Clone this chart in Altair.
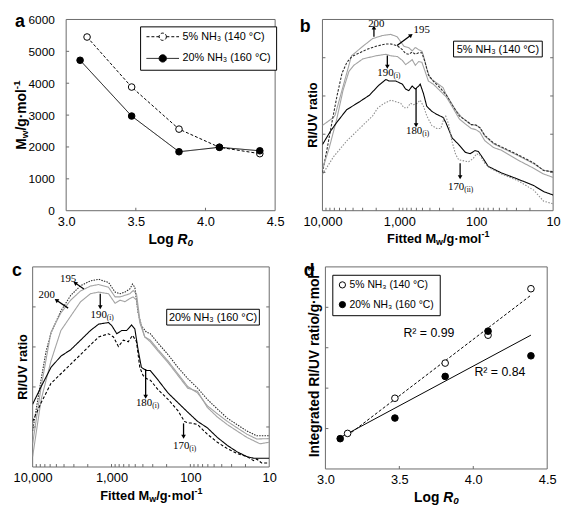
import altair as alt
import pandas as pd

S5 = "5% NH₃ (140 °C)"
S20 = "20% NH₃ (160 °C)"
SERIES = [S5, S20]

# ---------------- panel a ----------------
a_logR0_5 = [3.15, 3.47, 3.81, 4.10, 4.39]
a_mw_5 = [5450, 3880, 2560, 1990, 1790]
a_logR0_20 = [3.10, 3.47, 3.81, 4.10, 4.39]
a_mw_20 = [4720, 2970, 1850, 1990, 1880]
a_x_labels = [3.0, 3.5, 4.0, 4.5]
a_y_labels = [0, 1000, 2000, 3000, 4000, 5000, 6000]
a_x_inner = [3.5, 4.0]
a_y_inner = [1000, 2000, 3000, 4000, 5000]

# ---------------- panel b (5% NH3) ----------------
b_names = ["200", "195", "190", "180", "170"]
b200_mw = [10000, 7180, 6840, 5570, 4810, 4190, 2980, 2225, 1660, 1298, 1070, 960, 871, 753, 681, 619, 561, 509, 485, 440, 399, 327, 270, 249, 222, 186, 156, 139, 116, 101, 89.5, 77.3, 59.4, 47, 29.1, 17.9, 13.3, 10]
b200_y = [2.23, 2.44, 2.50, 3.15, 3.61, 4.05, 4.30, 4.50, 4.58, 4.61, 4.55, 4.42, 4.30, 4.26, 4.18, 4.27, 4.21, 4.17, 4.05, 3.72, 3.47, 3.34, 3.22, 3.06, 2.89, 2.64, 2.45, 2.37, 2.25, 2.24, 2.17, 1.95, 1.75, 1.65, 1.45, 1.23, 1.06, 1.01]
b195_mw = [10000, 8640, 7460, 6440, 5570, 4810, 4150, 2700, 2010, 1500, 1285, 1057, 914, 829, 753, 681, 619, 561, 509, 462, 419, 362, 297, 244, 201, 166, 139, 116, 101, 89.5, 77.3, 59.4, 47, 29.1, 17.9, 13.3, 10]
b195_y = [0.99, 1.65, 2.35, 3.02, 3.59, 3.88, 4.03, 4.21, 4.30, 4.36, 4.36, 4.31, 4.21, 4.11, 4.09, 4.15, 4.09, 4.13, 4.13, 3.88, 3.55, 3.39, 3.22, 3.02, 2.73, 2.48, 2.37, 2.25, 2.24, 2.17, 1.97, 1.77, 1.67, 1.47, 1.25, 1.05, 1.02]
b190_mw = [10000, 8150, 6510, 5410, 4530, 3920, 2980, 2010, 1500, 1285, 1057, 914, 829, 753, 681, 619, 561, 509, 462, 419, 362, 297, 244, 201, 166, 139, 116, 101, 89.5, 77.3, 59.4, 47, 29.1, 17.9, 13.3, 10]
b190_y = [1.08, 1.65, 2.40, 3.14, 3.64, 3.80, 3.97, 4.05, 4.09, 4.05, 4.03, 3.93, 3.82, 3.88, 3.95, 3.80, 3.90, 3.88, 3.64, 3.39, 3.31, 3.14, 2.97, 2.69, 2.40, 2.27, 2.15, 2.12, 2.05, 1.83, 1.65, 1.58, 1.33, 1.11, 0.96, 0.87]
b180_mw = [10000, 7910, 6510, 4850, 3290, 2450, 1850, 1500, 1352, 1110, 914, 829, 753, 681, 619, 561, 535, 485, 440, 379, 327, 270, 249, 205, 169, 139, 120, 104, 94, 81, 70, 47.4, 29.1, 17.9, 13.3, 10]
b180_y = [1.73, 2.07, 2.31, 2.64, 2.85, 3.02, 3.28, 3.43, 3.39, 3.39, 3.31, 3.18, 3.14, 3.26, 3.18, 3.26, 3.31, 3.06, 2.73, 2.60, 2.52, 2.44, 2.31, 1.90, 1.73, 1.53, 1.49, 1.57, 1.55, 1.36, 1.16, 0.99, 0.83, 0.66, 0.50, 0.41]
b170_mw = [10000, 7180, 4850, 3290, 2225, 1900, 1565, 1285, 1110, 960, 871, 789, 716, 650, 589, 535, 485, 440, 379, 327, 289, 264, 249, 229, 209, 186, 169, 126, 110, 99, 89.5, 77.3, 67, 47, 29.1, 17.9, 13.3, 10]
b170_y = [0.95, 1.41, 1.82, 2.15, 2.48, 2.69, 2.81, 2.89, 2.85, 2.81, 2.69, 2.69, 2.81, 2.77, 2.81, 2.89, 2.73, 2.48, 2.23, 2.15, 2.15, 2.40, 2.47, 2.27, 1.85, 1.48, 1.33, 1.28, 1.36, 1.49, 1.45, 1.24, 1.12, 0.96, 0.79, 0.54, 0.25, 0.18]
b_plain_text = ["200", "195"]
b_plain_mw = [1995, 512]
b_plain_y = [4.87, 4.73]
b_main_text = ["190", "180", "170"]
b_sub_text = ["(i)", "(i)", "(ii)"]
b_main_mw = [1189, 504, 143]
b_main_y = [3.61, 2.07, 0.62]
b_arrow_mw = [2140, 1070, 1433, 606, 162]
b_arrow_y = [4.55, 4.32, 4.06, 3.21, 1.24]
b_head_mw = [2140, 716, 1433, 606, 162]
b_head_y = [4.77, 4.58, 3.78, 2.25, 0.89]
b_head_angle = [0, 52, 180, 180, 180]

# ---------------- panel c (20% NH3) ----------------
c_names = ["195", "200", "190", "180", "170"]
c195_mw = [10000, 7790, 6750, 5850, 4385, 3290, 2465, 1850, 1455, 1090, 900, 779, 675, 585, 541, 506, 460, 418, 361, 322, 256, 192, 144, 108, 81, 61, 45.5, 34, 25.6, 19.2, 14.4, 10]
c195_y = [0.90, 2.20, 2.89, 3.35, 3.90, 4.29, 4.53, 4.65, 4.69, 4.61, 4.37, 4.33, 4.37, 4.45, 4.57, 4.49, 3.85, 3.53, 3.37, 3.33, 3.09, 2.81, 2.49, 2.21, 1.97, 1.69, 1.45, 1.22, 1.06, 0.90, 0.78, 0.78]
c200_mw = [10000, 7790, 5850, 4385, 3290, 2465, 1850, 1455, 1090, 900, 779, 675, 585, 531, 482, 438, 379, 322, 256, 192, 144, 108, 81, 61, 45.5, 34, 25.6, 19.2, 14.4, 10]
c200_y = [0.58, 2.01, 3.37, 3.85, 4.17, 4.40, 4.52, 4.56, 4.49, 4.25, 4.25, 4.29, 4.33, 4.41, 4.33, 3.69, 3.25, 3.17, 2.93, 2.65, 2.33, 2.01, 1.85, 1.53, 1.33, 1.14, 0.98, 0.82, 0.70, 0.71]
c190_mw = [10000, 7790, 5850, 4385, 3290, 2465, 1850, 1455, 1090, 900, 779, 675, 585, 531, 482, 438, 379, 322, 256, 192, 144, 108, 81, 61, 45.5, 34, 25.6, 19.2, 14.4, 13.1, 10]
c190_y = [0.26, 1.69, 2.65, 3.41, 3.77, 4.13, 4.33, 4.37, 4.33, 4.09, 4.17, 4.13, 4.21, 4.25, 4.17, 3.61, 3.25, 3.13, 2.89, 2.61, 2.29, 1.97, 1.89, 1.49, 1.25, 1.06, 0.90, 0.74, 0.62, 0.58, 0.62]
c180_mw = [10000, 7790, 5850, 4385, 3290, 2465, 1850, 1455, 1090, 990, 857, 743, 643, 557, 506, 460, 418, 361, 322, 256, 192, 144, 108, 81, 61, 45.5, 34, 25.6, 19.2, 15.8, 10]
c180_y = [1.57, 2.01, 2.49, 2.77, 2.93, 3.17, 3.41, 3.57, 3.61, 3.53, 3.33, 3.41, 3.41, 3.55, 3.45, 2.93, 2.49, 2.41, 2.41, 2.17, 1.85, 1.61, 1.37, 1.14, 0.98, 0.74, 0.54, 0.38, 0.26, 0.22, 0.22]
c170_mw = [10000, 7790, 5850, 4385, 3290, 2465, 1850, 1455, 1090, 944, 818, 708, 613, 541, 482, 438, 398, 361, 322, 256, 192, 144, 119, 108, 98, 81, 61, 45.5, 34, 25.6, 19.2, 15.8, 14.4, 12.5, 10]
c170_y = [1.14, 1.61, 2.09, 2.33, 2.57, 2.81, 3.05, 3.25, 3.33, 3.25, 3.01, 3.17, 3.13, 3.29, 3.13, 2.49, 2.29, 2.21, 2.17, 1.93, 1.69, 1.41, 1.14, 1.10, 1.10, 1.06, 0.82, 0.62, 0.46, 0.34, 0.26, 0.16, 0.20, 0.10, 0.10]
c_plain_text = ["195", "200"]
c_plain_mw = [3548, 6625]
c_plain_y = [4.69, 4.29]
c_main_text = ["190", "180", "170"]
c_sub_text = ["(i)", "(i)", "(i)"]
c_main_mw = [1145, 305, 103]
c_main_y = [3.80, 1.61, 0.53]
c_arrow_mw = [2239, 3548, 1389, 369, 122]
c_arrow_y = [4.45, 3.97, 4.33, 2.45, 1.09]
c_head_mw = [2851, 4925, 1389, 369, 122]
c_head_y = [4.59, 4.16, 4.01, 1.77, 0.77]
c_head_angle = [304, 304, 180, 180, 180]

mw_minor = [9000, 8000, 7000, 6000, 5000, 4000, 3000, 2000, 1000,
            900, 800, 700, 600, 500, 400, 300, 200, 100,
            90, 80, 70, 60, 50, 40, 30, 20]
mw_labels = [10000, 1000, 100, 10]
ratio_inner = [1, 2, 3, 4]

# ---------------- panel d ----------------
d_logR0_5 = [3.15, 3.47, 3.81, 4.10, 4.39]
d_int_5 = [0.88, 1.75, 2.62, 3.31, 4.46]
d_logR0_20 = [3.10, 3.47, 3.81, 4.10, 4.39]
d_int_20 = [0.75, 1.26, 2.29, 3.41, 2.80]
d_r2_text = ["R² = 0.99", "R² = 0.84"]
d_r2_x = [3.70, 4.18]
d_r2_y = [3.37, 2.41]

FONT = "Liberation Sans"
SERIF = "Liberation Serif"
FRAME = "#6a6a6a"

W_A, H_A = 212, 194
W_B, H_B = 234, 194
W_C, H_C = 240, 203
W_D, H_D = 225, 205

one = pd.DataFrame({"t": [0]})


def txt(text, x, y, size=13, weight="bold", style="normal", align="center",
        baseline="middle", angle=0, dx=0, dy=0, font=FONT):
    return alt.Chart(one).mark_text(
        text=text, align=align, baseline=baseline, angle=angle, dx=dx, dy=dy,
        font=font, fontSize=size, fontWeight=weight, fontStyle=style, color="black"
    ).encode(x=alt.value(x), y=alt.value(y))


def extent_box(W, H, left, right, top, bottom):
    # invisible box that fixes the extent of a panel (layout only)
    return alt.Chart(one).mark_rect(opacity=0).encode(
        x=alt.value(-left), x2=alt.value(W + right),
        y=alt.value(-top), y2=alt.value(H + bottom))


def plot_frame(W, H):
    return alt.Chart(one).mark_rect(filled=False, stroke=FRAME, strokeWidth=1).encode(
        x=alt.value(0), x2=alt.value(W), y=alt.value(0), y2=alt.value(H))


def spacer():
    return alt.Chart(one).mark_rect(opacity=0).encode(
        x=alt.value(0), x2=alt.value(1), y=alt.value(0), y2=alt.value(1)
    ).properties(width=1, height=1)


def log_title(W, H):
    A = W / 2 + 7
    y = H + 30
    return [txt("Log", A, y, 14, align="right", dx=-3.9),
            txt("R", A, y, 14, style="italic", align="left"),
            txt("0", A, y, 10, style="italic", align="left", dx=10.1, dy=3)]


def fitted_title(W, H):
    A = W / 2 - 1.7
    y = H + 29
    return [txt("Fitted M", A, y, 13, align="right"),
            txt("w", A, y, 9, align="left", dy=3),
            txt("/g·mol", A, y, 13, align="left", dx=7),
            txt("-1", A, y, 9, align="left", dx=46, dy=-5)]


def curves_df(names, mws, ys):
    parts = []
    for n, m, v in zip(names, mws, ys):
        parts.append(pd.DataFrame({"Mw": m, "y": v, "curve": n}))
    return pd.concat(parts, ignore_index=True)


def inner_ticks_x(df, X, H):
    return alt.Chart(df).mark_rule(color=FRAME, strokeWidth=1).encode(
        x=X, y=alt.value(H), y2=alt.value(H - 3))


def inner_ticks_y(df, Y, x0, x1):
    return alt.Chart(df).mark_rule(color=FRAME, strokeWidth=1).encode(
        y=Y, x=alt.value(x0), x2=alt.value(x1))


# ================= panel a =================
df_a = pd.DataFrame({
    "logR0": a_logR0_5 + a_logR0_20,
    "mw": a_mw_5 + a_mw_20,
    "series": [S5] * len(a_mw_5) + [S20] * len(a_mw_20),
})
xa = alt.X("logR0:Q", scale=alt.Scale(domain=[3.0, 4.5], nice=False, zero=False),
           axis=alt.Axis(values=a_x_labels, format=".1f", title=None, ticks=False, tickSize=0,
                         domain=False, grid=False, labelFlush=False, labelPadding=5,
                         labelFontSize=13, labelFont=FONT, labelColor="black"))
ya = alt.Y("mw:Q", scale=alt.Scale(domain=[0, 6000], nice=False),
           axis=alt.Axis(values=a_y_labels, format="d", title=None, ticks=False, tickSize=0,
                         domain=False, grid=False, labelPadding=12, labelFontSize=12,
                         labelFont=FONT, labelColor="black"))

SYM = "M-1,0H2.2M4.05,0H7.25M4.05,0A0.925,0.925,0,1,1,2.2,0A0.925,0.925,0,1,1,4.05,0Z"
leg_a = alt.Legend(title=None, orient="none", legendX=75, legendY=7, direction="vertical",
                   symbolType=SYM, symbolSize=64, symbolStrokeColor="black",
                   symbolStrokeWidth=1, labelFont=FONT, labelFontSize=11,
                   labelOffset=27, labelColor="black", padding=5, rowPadding=9,
                   strokeColor="black", fillColor="white", cornerRadius=0)

line_a = alt.Chart(df_a).mark_line(color="black", strokeWidth=1).encode(
    x=xa, y=ya,
    strokeDash=alt.StrokeDash("series:N", scale=alt.Scale(domain=SERIES, range=[[3, 2], [1, 0]]),
                              legend=leg_a))
pts_a = alt.Chart(df_a).mark_point(shape="circle", filled=True, size=45, stroke="black",
                                   strokeWidth=1, opacity=1).encode(
    x=xa, y=ya,
    fill=alt.Fill("series:N", scale=alt.Scale(domain=SERIES, range=["white", "black"]),
                  legend=leg_a))

ya_t = -45
ya_c = H_A / 2 + 23.5
panel_a = alt.layer(
    extent_box(W_A, H_A, 52, 10, 7, 38),
    plot_frame(W_A, H_A),
    inner_ticks_x(pd.DataFrame({"logR0": a_x_inner}), xa, H_A),
    inner_ticks_y(pd.DataFrame({"mw": a_y_inner}), ya, 0, 3),
    line_a, pts_a,
    txt("a", -52, 8, 18, align="left", baseline="alphabetic"),
    txt("M", ya_t, ya_c, 14, align="right", angle=270),
    txt("w", ya_t, ya_c, 10, align="left", angle=270, dy=3),
    txt("/g·mol", ya_t, ya_c, 14, align="left", angle=270, dx=7.8),
    txt("-1", ya_t, ya_c, 10, align="left", angle=270, dx=49.8, dy=-5),
    *log_title(W_A, H_A),
).properties(width=W_A, height=H_A)


# ================= panels b and c =================
def spectrum_panel(W, H, names, mws, ys, colors, dashes, plain, main, arrows,
                   box, box_text, letter, letter_xy, extent):
    df = curves_df(names, mws, ys)
    X = alt.X("Mw:Q", scale=alt.Scale(type="log", domain=[10, 10000], reverse=True, nice=False),
              axis=alt.Axis(values=mw_labels, format=",", title=None, ticks=False, tickSize=0,
                            domain=False, grid=False, labelFlush=False, labelPadding=5,
                            labelFontSize=13, labelFont=FONT, labelColor="black"))
    Y = alt.Y("y:Q", scale=alt.Scale(domain=[0, 5], nice=False, zero=False), axis=None)
    lines = alt.Chart(df).mark_line(strokeWidth=1.1, clip=True).encode(
        x=X, y=Y,
        color=alt.Color("curve:N", scale=alt.Scale(domain=names, range=colors), legend=None),
        strokeDash=alt.StrokeDash("curve:N", scale=alt.Scale(domain=names, range=dashes),
                                  legend=None))
    p_text, p_mw, p_y = plain
    m_text, s_text, m_mw, m_y = main
    a_mw, a_y, h_mw, h_y, h_ang = arrows
    plain_l = alt.Chart(pd.DataFrame({"Mw": p_mw, "y": p_y, "t": p_text})).mark_text(
        font=SERIF, fontSize=11, align="center", baseline="middle", color="black"
    ).encode(x=X, y=Y, text="t:N")
    main_l = alt.Chart(pd.DataFrame({"Mw": m_mw, "y": m_y, "t": m_text})).mark_text(
        font=SERIF, fontSize=11, align="right", baseline="middle", color="black"
    ).encode(x=X, y=Y, text="t:N")
    sub_l = alt.Chart(pd.DataFrame({"Mw": m_mw, "y": m_y, "t": s_text})).mark_text(
        font=SERIF, fontSize=7.5, align="left", baseline="middle", dy=3, color="black"
    ).encode(x=X, y=Y, text="t:N")
    arr_df = pd.DataFrame({"Mw": a_mw, "y": a_y, "Mw2": h_mw, "y2": h_y})
    arr_l = alt.Chart(arr_df).mark_rule(color="black", strokeWidth=1.3).encode(
        x=X, y=Y, x2="Mw2:Q", y2="y2:Q")
    head_df = pd.DataFrame({"Mw": h_mw, "y": h_y, "ang": h_ang})
    head_l = alt.Chart(head_df).mark_point(shape="triangle", filled=True, size=22,
                                           color="black", opacity=1).encode(
        x=X, y=Y, angle=alt.Angle("ang:Q", scale=None))
    bx0, bx1, by0, by1 = box
    box_l = alt.Chart(one).mark_rect(fill="white", stroke="black", strokeWidth=1).encode(
        x=alt.value(bx0), x2=alt.value(bx1), y=alt.value(by0), y2=alt.value(by1))
    layers = [
        extent_box(W, H, *extent),
        plot_frame(W, H),
        lines,
        inner_ticks_x(pd.DataFrame({"Mw": mw_minor}), X, H),
        inner_ticks_y(pd.DataFrame({"y": ratio_inner}), Y, 0, 3),
        inner_ticks_y(pd.DataFrame({"y": ratio_inner}), Y, W - 3, W),
        arr_l, head_l, plain_l, main_l, sub_l,
        box_l,
        txt(box_text, (bx0 + bx1) / 2, (by0 + by1) / 2 + 0.5, 11, weight="normal"),
        txt(letter, letter_xy[0], letter_xy[1], 18, align="left", baseline="alphabetic"),
        txt("RI/UV ratio", -10, H / 2, 13, angle=270),
        *fitted_title(W, H),
    ]
    return alt.layer(*layers).properties(width=W, height=H)


panel_b = spectrum_panel(
    W_B, H_B, b_names,
    [b200_mw, b195_mw, b190_mw, b180_mw, b170_mw],
    [b200_y, b195_y, b190_y, b180_y, b170_y],
    ["#a3a3a3", "#2b2b2b", "#a3a3a3", "#000000", "#8f8f8f"],
    [[1, 0], [2.5, 1.5], [1, 0], [1, 0], [1.5, 1.5]],
    (b_plain_text, b_plain_mw, b_plain_y),
    (b_main_text, b_sub_text, b_main_mw, b_main_y),
    (b_arrow_mw, b_arrow_y, b_head_mw, b_head_y, b_head_angle),
    (133, 223, 22, 38), S5, "b", (-23, 13), (23, 7, 7, 38))

panel_c = spectrum_panel(
    W_C, H_C, c_names,
    [c195_mw, c200_mw, c190_mw, c180_mw, c170_mw],
    [c195_y, c200_y, c190_y, c180_y, c170_y],
    ["#2b2b2b", "#a3a3a3", "#a3a3a3", "#000000", "#000000"],
    [[1.5, 1.2], [1, 0], [1, 0], [1, 0], [3, 2]],
    (c_plain_text, c_plain_mw, c_plain_y),
    (c_main_text, c_sub_text, c_main_mw, c_main_y),
    (c_arrow_mw, c_arrow_y, c_head_mw, c_head_y, c_head_angle),
    (136, 230, 43, 59), S20, "c", (-21, 9), (21, 8, 6, 38))

# ================= panel d =================
df_d = pd.DataFrame({
    "logR0": d_logR0_5 + d_logR0_20,
    "val": d_int_5 + d_int_20,
    "series": [S5] * len(d_int_5) + [S20] * len(d_int_20),
})
xd = alt.X("logR0:Q", scale=alt.Scale(domain=[3.0, 4.5], nice=False, zero=False),
           axis=alt.Axis(values=a_x_labels, format=".1f", title=None, ticks=False, tickSize=0,
                         domain=False, grid=False, labelFlush=False, labelPadding=5,
                         labelFontSize=13, labelFont=FONT, labelColor="black"))
yd = alt.Y("val:Q", scale=alt.Scale(domain=[0, 5], nice=False, zero=False), axis=None)
leg_d = alt.Legend(title=None, orient="none", legendX=7, legendY=8, direction="vertical",
                   symbolType="circle", symbolSize=40, symbolStrokeColor="black",
                   symbolStrokeWidth=1, labelFont=FONT, labelFontSize=10.5, labelOffset=2,
                   labelColor="black", padding=5, rowPadding=9, strokeColor="black",
                   fillColor="white", cornerRadius=0)
reg_5 = alt.Chart(df_d).transform_filter(alt.datum.series == S5).transform_regression(
    "logR0", "val").mark_line(color="black", strokeWidth=1, strokeDash=[3, 2]).encode(x=xd, y=yd)
reg_20 = alt.Chart(df_d).transform_filter(alt.datum.series == S20).transform_regression(
    "logR0", "val").mark_line(color="black", strokeWidth=1).encode(x=xd, y=yd)
pts_d = alt.Chart(df_d).mark_point(shape="circle", filled=True, size=45, stroke="black",
                                   strokeWidth=1, opacity=1).encode(
    x=xd, y=yd,
    fill=alt.Fill("series:N", scale=alt.Scale(domain=SERIES, range=["white", "black"]),
                  legend=leg_d))
r2_d = alt.Chart(pd.DataFrame({"logR0": d_r2_x, "val": d_r2_y, "t": d_r2_text})).mark_text(
    font=FONT, fontSize=12.5, align="center", baseline="middle", color="black"
).encode(x=xd, y=yd, text="t:N")

yd_anchor = H_D / 2 - 94.5
panel_d = alt.layer(
    extent_box(W_D, H_D, 22, 9, 6, 39),
    plot_frame(W_D, H_D),
    inner_ticks_x(pd.DataFrame({"logR0": a_x_inner}), xd, H_D),
    inner_ticks_y(pd.DataFrame({"val": ratio_inner}), yd, 0, 3),
    reg_5, reg_20, pts_d, r2_d,
    txt("d", -22, 9, 18, align="left", baseline="alphabetic"),
    txt("Integrated RI/UV ratio/g·mol", -10, yd_anchor, 14, align="right", angle=270),
    txt("-1", -10, yd_anchor, 10, align="left", angle=270, dy=-5),
    *log_title(W_D, H_D),
).properties(width=W_D, height=H_D)

# ================= layout =================
IND = dict(color="independent", fill="independent", strokeDash="independent")


def hc(*charts, spacing):
    return alt.hconcat(*charts, spacing=spacing).resolve_scale(**IND).resolve_legend(**IND)


row1 = hc(hc(spacer(), panel_a, spacing=0), panel_b, spacing=13)
row2 = hc(hc(spacer(), panel_c, spacing=0), panel_d, spacing=25)

chart = alt.vconcat(row1, row2, spacing=11).resolve_scale(**IND).resolve_legend(**IND).properties(
    padding=0
).configure(font=FONT).configure_view(stroke="transparent")

chart.save("out.html", embed_options={"renderer": "svg", "actions": False})
